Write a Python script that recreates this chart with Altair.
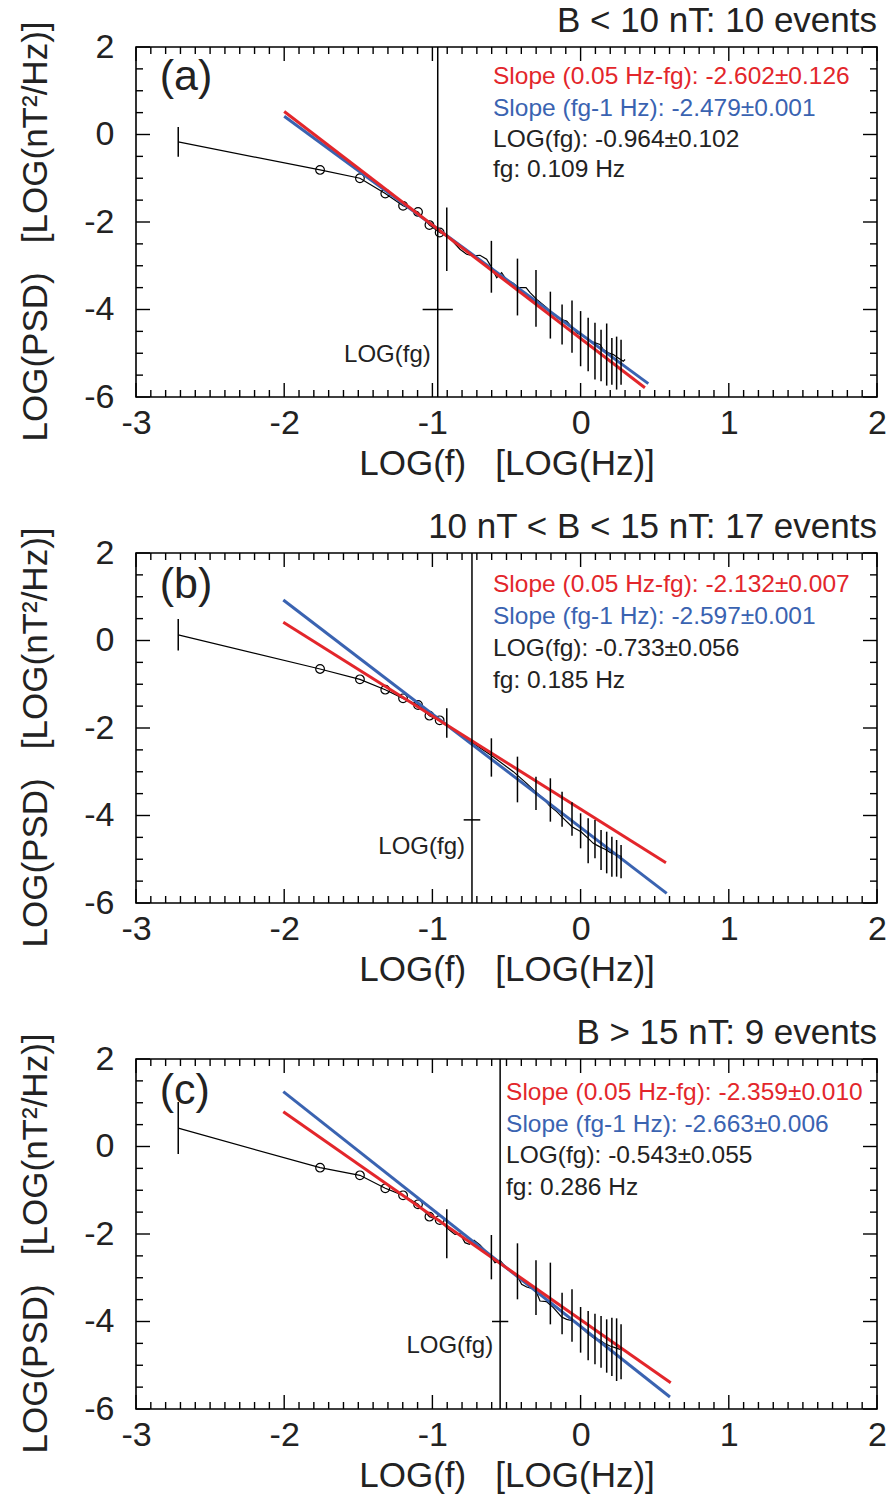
import altair as alt
import pandas as pd

W, H = 741, 350
RED = "#e3262b"
BLUE = "#3a63b1"

# ---------- shared positions (log10 Hz) ----------
ERR_X = [-0.903, -0.602, -0.426, -0.301, -0.204, -0.125, -0.058, 0.0,
         0.051, 0.097, 0.138, 0.176, 0.211, 0.243, 0.273]
CIRC_X = [-1.758, -1.489, -1.318, -1.198, -1.097, -1.020, -0.951]
FIRST_X = -2.715

TITLES = ["B < 10 nT: 10 events", "10 nT < B < 15 nT: 17 events", "B > 15 nT: 9 events"]
LETTERS = ["(a)", "(b)", "(c)"]
SLOPE_LOW = ["-2.602±0.126", "-2.132±0.007", "-2.359±0.010"]
SLOPE_HIGH = ["-2.479±0.001", "-2.597±0.001", "-2.663±0.006"]
LOG_FG = [-0.964, -0.733, -0.543]
LOG_FG_ERR = [0.102, 0.056, 0.055]
LOG_FG_TXT = ["-0.964±0.102", "-0.733±0.056", "-0.543±0.055"]
FG_HZ = ["0.109", "0.185", "0.286"]
FG_BAR_Y = [-4.0, -4.1, -4.0]
FG_LABEL_Y = [-5.03, -4.71, -4.56]
TXT_X = [-0.591, -0.591, -0.503]
TXT_Y = [[1.312, 0.579, -0.132, -0.82],
         [1.269, 0.537, -0.194, -0.926],
         [1.223, 0.491, -0.217, -0.949]]
LETTER_X = -2.84
LETTER_Y = [1.31, 1.27, 1.27]

# ---------- panel (a) ----------
A_FIRST = [-0.17, -0.51, 0.17]
A_CIRC_Y = [-0.81, -1.00, -1.35, -1.63, -1.77, -2.07, -2.24]
A_TAIL_X = [-0.897, -0.814, -0.769, -0.724, -0.679, -0.634, -0.600, -0.566, -0.533,
            -0.499, -0.454, -0.420, -0.368, -0.341, -0.296, -0.229, -0.184, -0.139,
            -0.094, -0.027, 0.018, 0.063, 0.131, 0.153, 0.187, 0.221, 0.254, 0.288, 0.300]
A_TAIL_Y = [-2.317, -2.623, -2.737, -2.776, -2.760, -2.852, -3.043, -3.272, -3.158,
            -3.326, -3.402, -3.501, -3.501, -3.616, -3.769, -3.960, -4.113, -4.227,
            -4.266, -4.533, -4.609, -4.724, -4.800, -4.915, -4.991, -5.030, -5.106, -5.182, -5.144]
A_ERR_LO = [-3.119, -3.616, -4.136, -4.395, -4.664, -4.801, -4.991, -5.297, -5.41,
            -5.60, -5.64, -5.74, -5.72, -5.83, -5.72]
A_ERR_HI = [-1.668, -2.431, -2.837, -3.096, -3.593, -3.884, -3.792, -4.036, -4.19,
            -4.30, -4.46, -4.32, -4.65, -4.62, -4.69]
A_RED_X, A_RED_Y = [-2.0, 0.434], [0.526, -5.79]
A_BLUE_X, A_BLUE_Y = [-2.0, 0.457], [0.418, -5.695]

# ---------- panel (b) ----------
B_FIRST = [0.13, -0.23, 0.49]
B_CIRC_Y = [-0.651, -0.888, -1.124, -1.322, -1.474, -1.718, -1.825]
B_TAIL_X = [-0.904, -0.836, -0.740, -0.607, -0.454, -0.364, -0.305, -0.251, -0.211,
            -0.161, -0.128, -0.058, 0.003, 0.046, 0.086, 0.127, 0.165, 0.199, 0.232, 0.277]
B_TAIL_Y = [-1.931, -2.084, -2.312, -2.617, -2.998, -3.265, -3.455, -3.608, -3.775,
            -3.912, -4.027, -4.255, -4.370, -4.507, -4.636, -4.712, -4.773, -4.842, -4.888, -4.941]
B_ERR_LO = [-2.221, -3.112, -3.699, -3.874, -4.141, -4.255, -4.461, -4.750, -5.093,
            -4.979, -5.246, -5.322, -5.398, -5.398, -5.436]
B_ERR_HI = [-1.550, -2.236, -2.655, -3.112, -3.150, -3.455, -3.699, -3.950, -4.065,
            -4.103, -4.331, -4.370, -4.484, -4.560, -4.674]
B_RED_X, B_RED_Y = [-2.006, 0.576], [0.415, -5.078]
B_BLUE_X, B_BLUE_Y = [-2.006, 0.581], [0.926, -5.78]

# ---------- panel (c) ----------
C_FIRST = [0.42, -0.17, 1.02]
C_CIRC_Y = [-0.484, -0.659, -0.956, -1.116, -1.322, -1.604, -1.68]
C_TAIL_X = [-0.904, -0.877, -0.848, -0.814, -0.780, -0.751, -0.719, -0.679, -0.645,
            -0.607, -0.578, -0.544, -0.517, -0.476, -0.431, -0.398, -0.364, -0.330,
            -0.296, -0.274, -0.229, -0.184, -0.128, -0.094, -0.049, -0.004, 0.041,
            0.086, 0.131, 0.165, 0.199, 0.232, 0.266]
C_TAIL_Y = [-1.855, -1.931, -2.008, -1.992, -2.198, -2.236, -2.145, -2.251, -2.373,
            -2.503, -2.655, -2.602, -2.709, -2.846, -2.937, -3.150, -3.211, -3.242,
            -3.341, -3.531, -3.547, -3.684, -3.897, -3.950, -3.988, -4.103, -4.255,
            -4.370, -4.430, -4.507, -4.560, -4.598, -4.636]
C_ERR_LO = [-2.556, -3.036, -3.493, -3.851, -4.065, -4.293, -4.461, -4.712, -4.888,
            -4.979, -5.055, -5.170, -5.246, -5.360, -5.322]
C_ERR_HI = [-1.436, -2.023, -2.213, -2.602, -2.655, -3.341, -3.265, -3.669, -3.760,
            -3.821, -3.874, -3.950, -3.912, -3.928, -4.065]
C_RED_X, C_RED_Y = [-2.006, 0.608], [0.796, -5.398]
C_BLUE_X, C_BLUE_Y = [-2.006, 0.603], [1.253, -5.726]

PANELS = [
    dict(first=A_FIRST, circ_y=A_CIRC_Y, tail_x=A_TAIL_X, tail_y=A_TAIL_Y, lo=A_ERR_LO, hi=A_ERR_HI,
         red=(A_RED_X, A_RED_Y), blue=(A_BLUE_X, A_BLUE_Y)),
    dict(first=B_FIRST, circ_y=B_CIRC_Y, tail_x=B_TAIL_X, tail_y=B_TAIL_Y, lo=B_ERR_LO, hi=B_ERR_HI,
         red=(B_RED_X, B_RED_Y), blue=(B_BLUE_X, B_BLUE_Y)),
    dict(first=C_FIRST, circ_y=C_CIRC_Y, tail_x=C_TAIL_X, tail_y=C_TAIL_Y, lo=C_ERR_LO, hi=C_ERR_HI,
         red=(C_RED_X, C_RED_Y), blue=(C_BLUE_X, C_BLUE_Y)),
]

# ---------- axes / tick positions ----------
XS = alt.Scale(domain=[-3, 2], nice=False, zero=False)
YS = alt.Scale(domain=[-6, 2], nice=False, zero=False)
MAJ_X = [-3, -2, -1, 0, 1, 2]
MIN_X = [round(-3 + 0.1 * i, 1) for i in range(51) if i % 10]
MAJ_Y = [-6, -4, -2, 0, 2]
MIN_Y = [-5.5, -5, -4.5, -3.5, -3, -2.5, -1.5, -1, -0.5, 0.5, 1, 1.5]
XTITLE = "LOG(f)\u00a0\u00a0\u00a0[LOG(Hz)]"
YTITLE = "LOG(PSD)\u00a0\u00a0\u00a0[LOG(nT\u00b2/Hz)]"
MAJ_LEN, MIN_LEN = 14, 7

X_AX = alt.Axis(orient="bottom", values=MAJ_X, ticks=False, tickSize=0, domain=False, grid=False,
                labelFontSize=34, labelPadding=9, labelColor="#222222", labelFlush=False,
                labelExpr="'' + datum.value", title=XTITLE, titleFontSize=35,
                titleFontWeight="normal", titleColor="#222222", titlePadding=6)
Y_AX = alt.Axis(orient="left", values=MAJ_Y, ticks=False, tickSize=0, domain=False, grid=False,
                labelFontSize=34, labelPadding=22, labelColor="#222222", labelFlush=False,
                labelExpr="'' + datum.value", title=YTITLE, titleFontSize=35,
                titleFontWeight="normal", titleColor="#222222", titlePadding=30,
                titleY=H / 2 + 9)


def X(f):
    return alt.X(f, type="quantitative", scale=XS, axis=X_AX)


def Y(f):
    return alt.Y(f, type="quantitative", scale=YS, axis=Y_AX)


def tick_layers():
    mx = pd.DataFrame({"v": MAJ_X})
    nx = pd.DataFrame({"v": MIN_X})
    my = pd.DataFrame({"v": MAJ_Y})
    ny = pd.DataFrame({"v": MIN_Y})
    out = []
    for df, ln in ((mx, MAJ_LEN), (nx, MIN_LEN)):
        base = alt.Chart(df).mark_rule(color="black", strokeWidth=1.4)
        out.append(base.encode(x=X("v"), y=alt.value(H), y2=alt.value(H - ln)))
        out.append(base.encode(x=X("v"), y=alt.value(0), y2=alt.value(ln)))
    for df, ln in ((my, MAJ_LEN), (ny, MIN_LEN)):
        base = alt.Chart(df).mark_rule(color="black", strokeWidth=1.4)
        out.append(base.encode(y=Y("v"), x=alt.value(0), x2=alt.value(ln)))
        out.append(base.encode(y=Y("v"), x=alt.value(W), x2=alt.value(W - ln)))
    return out


def panel(i):
    p = PANELS[i]
    line_df = pd.DataFrame({"x": [FIRST_X] + CIRC_X + p["tail_x"],
                            "y": [p["first"][0]] + p["circ_y"] + p["tail_y"]})
    line_df["o"] = range(len(line_df))
    circ_df = pd.DataFrame({"x": CIRC_X, "y": p["circ_y"]})
    err_df = pd.DataFrame({"x": [FIRST_X] + ERR_X,
                           "lo": [p["first"][1]] + p["lo"],
                           "hi": [p["first"][2]] + p["hi"]})
    red_df = pd.DataFrame({"x": p["red"][0], "y": p["red"][1]})
    blue_df = pd.DataFrame({"x": p["blue"][0], "y": p["blue"][1]})
    fg_df = pd.DataFrame({"x": [LOG_FG[i]], "lo": [LOG_FG[i] - LOG_FG_ERR[i]],
                          "hi": [LOG_FG[i] + LOG_FG_ERR[i]], "bar_y": [FG_BAR_Y[i]],
                          "lab_y": [FG_LABEL_Y[i]], "t": ["LOG(fg)"]})
    txt_df = pd.DataFrame({
        "x": [TXT_X[i]] * 4, "y": TXT_Y[i],
        "t": ["Slope (0.05 Hz-fg): " + SLOPE_LOW[i], "Slope (fg-1 Hz): " + SLOPE_HIGH[i],
              "LOG(fg): " + LOG_FG_TXT[i], "fg: " + FG_HZ[i] + " Hz"],
        "c": [RED, BLUE, "#222222", "#222222"]})
    let_df = pd.DataFrame({"x": [LETTER_X], "y": [LETTER_Y[i]], "t": [LETTERS[i]]})

    line = alt.Chart(line_df).mark_line(color="black", strokeWidth=1.2).encode(
        x=X("x"), y=Y("y"), order=alt.Order("o:Q"))
    circ = alt.Chart(circ_df).mark_point(shape="circle", filled=False, size=75, color="black",
                                         strokeWidth=1.2, opacity=1).encode(x=X("x"), y=Y("y"))
    blue = alt.Chart(blue_df).mark_line(color=BLUE, strokeWidth=3).encode(x=X("x"), y=Y("y"))
    red = alt.Chart(red_df).mark_line(color=RED, strokeWidth=3).encode(x=X("x"), y=Y("y"))
    err = alt.Chart(err_df).mark_rule(color="black", strokeWidth=1.5).encode(
        x=X("x"), y=Y("lo"), y2="hi")
    vline = alt.Chart(fg_df).mark_rule(color="black", strokeWidth=1.5).encode(
        x=X("x"), y=alt.value(0), y2=alt.value(H))
    hbar = alt.Chart(fg_df).mark_rule(color="black", strokeWidth=1.5).encode(
        x=X("lo"), x2="hi", y=Y("bar_y"))
    flab = alt.Chart(fg_df).mark_text(align="right", baseline="middle", fontSize=24, dx=-7,
                                      color="#222222").encode(
        x=X("x"), y=Y("lab_y"), text="t:N")
    txt = alt.Chart(txt_df).mark_text(align="left", baseline="middle", fontSize=24.5).encode(
        x=X("x"), y=Y("y"), text="t:N", color=alt.Color("c:N", scale=None))
    let = alt.Chart(let_df).mark_text(align="left", baseline="middle", fontSize=43,
                                      color="#222222").encode(
        x=X("x"), y=Y("y"), text="t:N")

    layers = [line, circ, blue, red, err, vline, hbar, flab, txt, let] + tick_layers()
    return alt.layer(*layers).properties(
        width=W, height=H,
        title=alt.TitleParams(TITLES[i], anchor="end", frame="group", fontSize=35,
                              fontWeight="normal", color="#222222", offset=-18))


chart = alt.vconcat(panel(0), panel(1), panel(2), spacing=27).properties(
    padding={"left": 17, "top": 3, "right": 1, "bottom": 0}
).configure(font="Liberation Sans").configure_view(stroke="black", strokeWidth=1.6)

chart.save("out.html", embed_options={"renderer": "svg", "actions": False})
